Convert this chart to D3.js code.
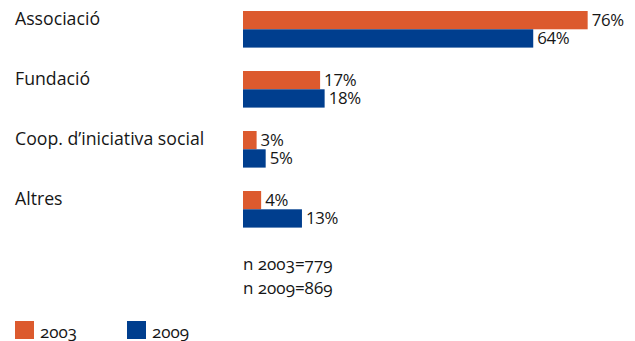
<!DOCTYPE html>
<html><head><meta charset="utf-8">
<script src="https://cdn.jsdelivr.net/npm/d3@7"></script>
<style>
html,body{margin:0;padding:0;background:#fff;}
svg text{font-family:"Open Sans","Lato",sans-serif;fill:#161616;}
.osf{font-variant-numeric:oldstyle-nums;font-feature-settings:"onum" 1;}
</style></head>
<body>
<svg id="c" width="635" height="341"></svg>
<script>
const categories = ["Associació","Fundació","Coop. d’iniciativa social","Altres"];
const series = ["2003","2009"];
const values2003 = [76,17,3,4];
const values2009 = [64,18,5,13];
const notes = ["n 2003=779","n 2009=869"];
const colors = ["#DC5A2E","#003E8E"];

const svg = d3.select("#c");
const x = d3.scaleLinear().domain([0,100]).range([243, 243+453.5]);
const y = d3.scaleBand().domain(categories).range([11, 227.6]).paddingInner(0.39).paddingOuter(0);
const ys = d3.scaleBand().domain(series).range([0, y.bandwidth()]);

const data = categories.map((c,i)=>({cat:c, vals:[values2003[i], values2009[i]]}));

const g = svg.selectAll("g.cat").data(data).join("g").attr("class","cat")
  .attr("transform", d=>`translate(0,${y(d.cat)})`);

g.append("text").attr("x",15).attr("y",14).attr("font-size",17.7).text(d=>d.cat);

series.forEach((s,si)=>{
  g.append("rect")
    .attr("x", x(0)).attr("y", ys(s))
    .attr("width", d=>x(d.vals[si])-x(0)).attr("height", ys.bandwidth())
    .attr("fill", colors[si]);
  g.append("text")
    .attr("x", d=>x(d.vals[si])+4)
    .attr("y", ys(s)+ys.bandwidth()/2+6)
    .attr("font-size",16.8).attr("letter-spacing","-0.3")
    .text(d=>d.vals[si]+"%");
});

svg.selectAll("text.note").data(notes).join("text").attr("class","note osf")
  .attr("x",243).attr("y",(d,i)=>270+i*24).attr("font-size",17).text(d=>d);

const leg = svg.selectAll("g.leg").data(series).join("g").attr("class","leg")
  .attr("transform",(d,i)=>`translate(${15+i*112},321)`);
leg.append("rect").attr("width",19).attr("height",18).attr("fill",(d,i)=>colors[i]);
leg.append("text").attr("class","osf").attr("x",25).attr("y",16.5).attr("font-size",17).text(d=>d);
</script>
</body></html>
